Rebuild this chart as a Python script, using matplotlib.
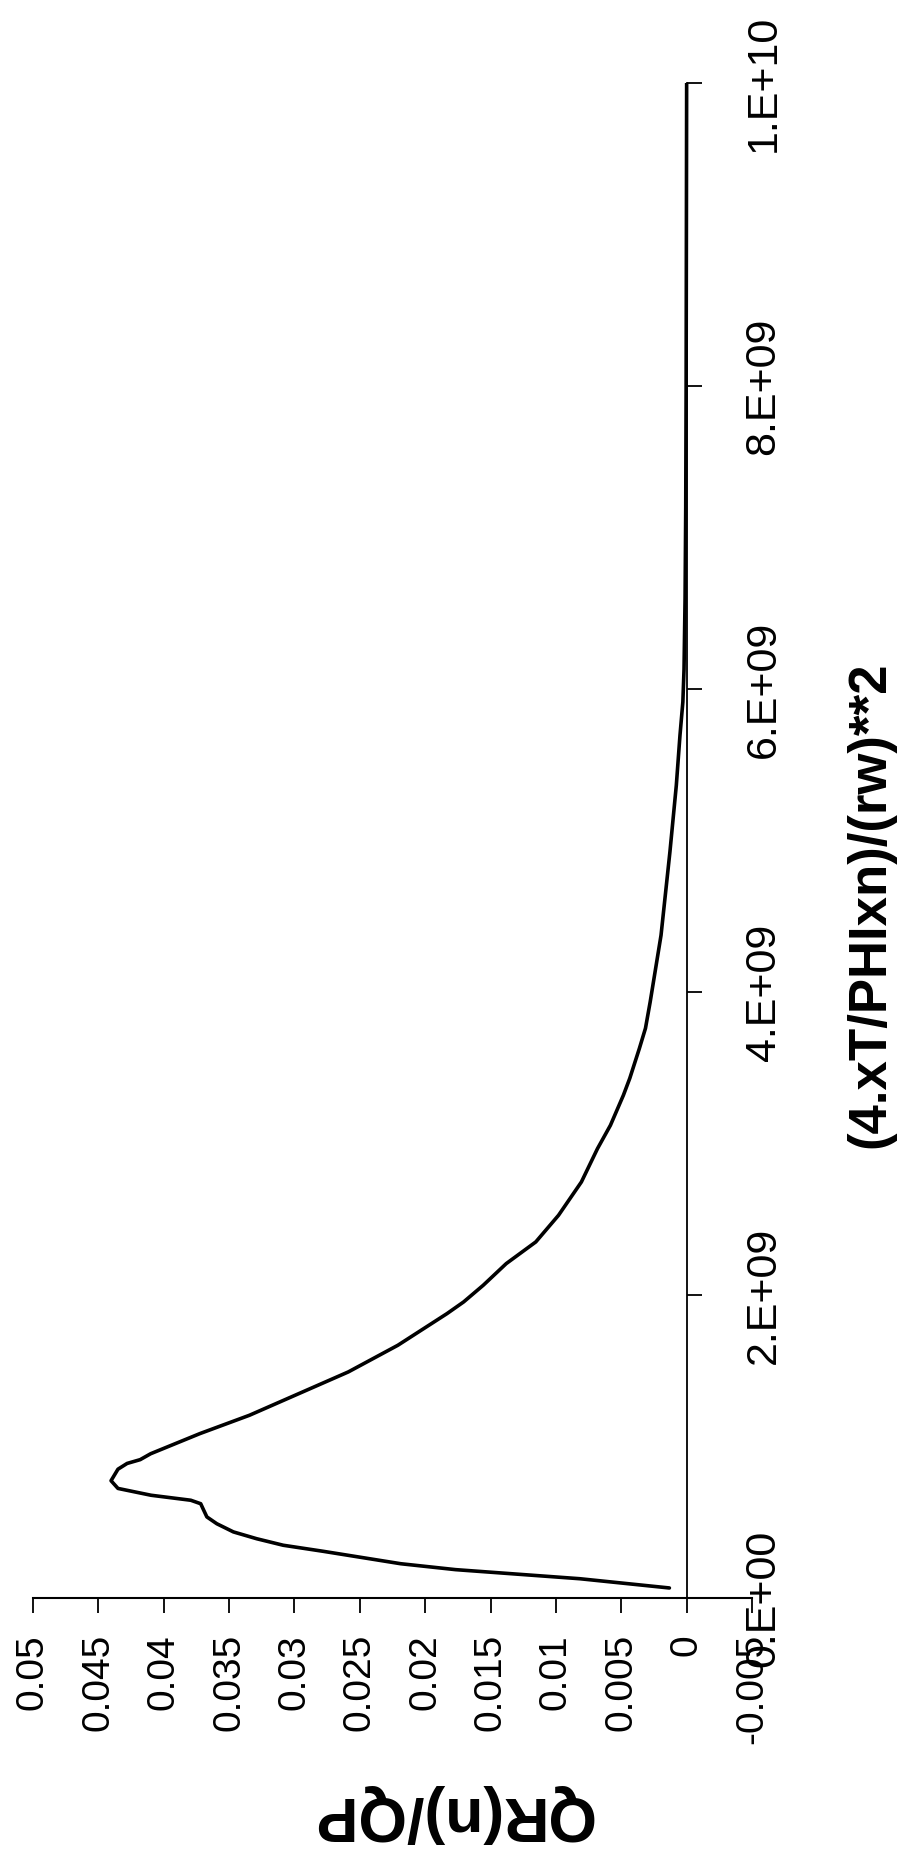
"""Rotated chart: QR(n)/QP versus (4.xT/PHIxn)/(rw)**2, drawn sideways as in the scan."""
import matplotlib
matplotlib.use('Agg')
import matplotlib.pyplot as plt

plt.rcParams['font.family'] = ['Liberation Sans', 'DejaVu Sans']

# curve: x value (1e9 units) and QR(n)/QP
t_e9 = [0.066, 0.127, 0.187, 0.226, 0.308, 0.348, 0.391, 0.436, 0.490, 0.535,
        0.579, 0.622, 0.645, 0.678, 0.723, 0.774, 0.850, 0.888, 0.913, 0.952,
        1.085, 1.206, 1.349, 1.492, 1.668, 1.877, 1.954, 2.064, 2.207, 2.350,
        2.526, 2.746, 2.966, 3.120, 3.318, 3.430, 3.626, 3.760, 3.934, 4.374,
        4.924, 5.364, 5.694, 5.914, 6.13, 6.6, 7.2, 8.0, 9.0, 10.0]
qr = [0.00132, 0.00817, 0.01768, 0.02187, 0.0278, 0.03086, 0.03289, 0.03467, 0.03594, 0.0367,
      0.03694, 0.03717, 0.03793, 0.04097, 0.0435, 0.04403, 0.0435, 0.0428, 0.0418, 0.0410,
      0.03723, 0.03344, 0.02966, 0.02588, 0.02209, 0.01833, 0.01706, 0.01556, 0.0138, 0.01154,
      0.0098, 0.00805, 0.00682, 0.00583, 0.00484, 0.00435, 0.00362, 0.00315, 0.00279, 0.00196,
      0.00128, 0.00079, 0.00051, 0.00029, 0.0002, 0.00012, 0.00007, 0.00004, 0.00002, 0.0]

q_ticks = [0.05, 0.045, 0.04, 0.035, 0.03, 0.025, 0.02, 0.015, 0.01, 0.005, 0.0, -0.005]
q_labels = ['0.05', '0.045', '0.04', '0.035', '0.03', '0.025', '0.02', '0.015',
            '0.01', '0.005', '0', '-0.005']
t_ticks = [0, 2e9, 4e9, 6e9, 8e9, 1e10]
t_labels = ['0.E+00', '2.E+09', '4.E+09', '6.E+09', '8.E+09', '1.E+10']

fig = plt.figure(figsize=(8.99, 18.51), dpi=100)
ax = fig.add_axes([0.0367, 0.1367, 0.7998, 0.8185])

ax.plot(qr, [t * 1e9 for t in t_e9], color='black', lw=2.6,
        solid_capstyle='round', solid_joinstyle='round')

ax.set_xlim(0.05, -0.005)
ax.set_ylim(0, 1e10)

for s in ['top', 'left']:
    ax.spines[s].set_visible(False)
ax.spines['right'].set_position(('data', 0))
ax.spines['right'].set_linewidth(1.3)
ax.spines['bottom'].set_linewidth(1.5)

ax.set_xticks(q_ticks)
ax.set_xticklabels(q_labels, rotation=90, fontsize=28)
ax.tick_params(axis='x', direction='out', length=11, width=1.3, pad=15)

ax.yaxis.set_ticks_position('right')
ax.set_yticks(t_ticks)
ax.set_yticklabels(t_labels, rotation=90, fontsize=31, va='center')
ax.tick_params(axis='y', direction='out', length=11, width=1.3, pad=30)

fig.text(870 / 899, 1 - 905 / 1851, '(4.xT/PHIxn)/(rw)**2', rotation=90,
         ha='center', va='center', fontsize=38, fontweight='bold')
fig.text(452 / 899, 1 - 1813 / 1851, 'QR(n)/QP', rotation=180,
         ha='center', va='center', fontsize=45, fontweight='bold')

plt.savefig('out.png', dpi=100)
plt.close()
